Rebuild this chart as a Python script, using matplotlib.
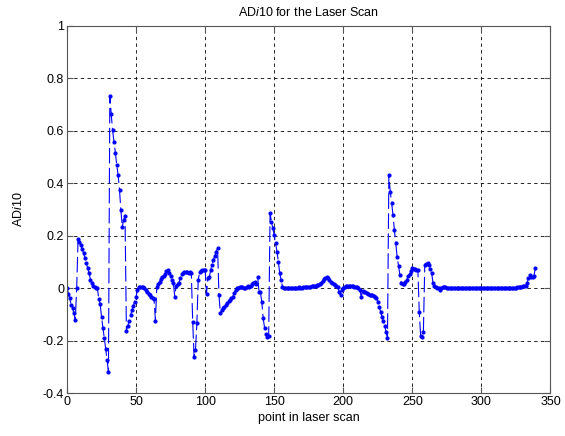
import numpy as np
import matplotlib.pyplot as plt

plt.rcParams["font.family"] = ["Liberation Sans", "DejaVu Sans"]
plt.rcParams["mathtext.fontset"] = "custom"
plt.rcParams["mathtext.it"] = "Liberation Sans:italic"
plt.rcParams["mathtext.rm"] = "Liberation Sans"

# ADi10 values, one per scan point
adi10 = [
    0.0, -0.02, -0.038, -0.064, -0.076, -0.095, -0.12, 0.0, 0.187, 0.178,
    0.165, 0.15, 0.133, 0.114, 0.095, 0.076, 0.057, 0.032, 0.019, 0.009,
    0.004, 0.002, 0.0, -0.04, -0.06, -0.11, -0.15, -0.19, -0.23, -0.275,
    -0.318, 0.734, 0.663, 0.603, 0.558, 0.517, 0.47, 0.432, 0.374, 0.298,
    0.235, 0.26, 0.275, -0.161, -0.143, -0.123, -0.102, -0.083, -0.067, -0.051,
    -0.032, -0.006, 0.006, 0.006, 0.006, 0.004, 0.0, -0.006, -0.013, -0.02,
    -0.025, -0.032, -0.038, -0.04, -0.123, 0.005, 0.016, 0.025, 0.035, 0.042,
    0.047, 0.054, 0.065, 0.07, 0.059, 0.047, 0.032, 0.019, -0.032, 0.01,
    0.016, 0.02, 0.04, 0.055, 0.06, 0.062, 0.062, 0.062, 0.06, 0.062,
    0.058, -0.13, -0.26, -0.235, -0.133, 0.032, 0.062, 0.065, 0.068, 0.068,
    0.07, -0.02, 0.04, 0.042, 0.07, 0.089, 0.108, 0.123, 0.14, 0.152,
    -0.026, -0.093, -0.083, -0.075, -0.07, -0.062, -0.057, -0.05, -0.045, -0.038,
    -0.032, -0.019, -0.006, 0.0, 0.003, 0.006, 0.006, 0.004, 0.0, 0.003,
    0.006, 0.008, 0.006, 0.01, 0.016, 0.02, 0.025, 0.015, 0.044, -0.013,
    -0.015, -0.051, -0.114, -0.15, -0.175, -0.187, -0.18, 0.286, 0.254, 0.229,
    0.203, 0.171, 0.14, 0.101, 0.057, 0.032, 0.006, 0.003, 0.002, 0.002,
    0.002, 0.003, 0.002, 0.002, 0.003, 0.002, 0.002, 0.003, 0.004, 0.003,
    0.003, 0.004, 0.005, 0.004, 0.005, 0.006, 0.006, 0.007, 0.008, 0.009,
    0.01, 0.012, 0.014, 0.018, 0.022, 0.027, 0.034, 0.04, 0.042, 0.038,
    0.032, 0.025, 0.021, 0.015, 0.012, 0.009, 0.004, -0.013, -0.025, -0.005,
    0.0, 0.005, 0.008, 0.009, 0.009, 0.009, 0.008, 0.007, 0.006, 0.005,
    0.004, 0.0, -0.005, -0.032, -0.01, -0.013, -0.016, -0.019, -0.022, -0.025,
    -0.025, -0.025, -0.028, -0.032, -0.038, -0.051, -0.07, -0.089, -0.108, -0.125,
    -0.145, -0.165, -0.19, 0.43, 0.368, 0.326, 0.279, 0.222, 0.171, 0.12,
    0.085, 0.051, 0.02, 0.016, 0.018, 0.025, 0.032, 0.045, 0.055, 0.067,
    0.076, 0.074, 0.072, 0.07, 0.07, -0.09, -0.18, -0.184, -0.165, 0.089,
    0.092, 0.095, 0.09, 0.072, 0.057, 0.019, 0.009, 0.006, 0.003, 0.0,
    -0.006, 0.0, 0.004, 0.005, 0.005, 0.003, 0.0, 0.001, 0.002, 0.002,
    0.001, 0.001, 0.002, 0.001, 0.001, 0.001, 0.002, 0.001, 0.001, 0.001,
    0.001, 0.002, 0.001, 0.001, 0.001, 0.001, 0.001, 0.002, 0.001, 0.001,
    0.001, 0.001, 0.001, 0.001, 0.002, 0.001, 0.001, 0.001, 0.001, 0.001,
    0.001, 0.001, 0.002, 0.001, 0.001, 0.001, 0.001, 0.002, 0.002, 0.002,
    0.002, 0.002, 0.003, 0.002, 0.003, 0.003, 0.004, 0.004, 0.005, 0.006,
    0.007, 0.008, 0.009, 0.019, 0.038, 0.051, 0.044, 0.044, 0.045, 0.076,
]
scan_points = np.arange(len(adi10))

xticks = [0, 50, 100, 150, 200, 250, 300, 350]
yticks = [-0.4, -0.2, 0, 0.2, 0.4, 0.6, 0.8, 1]
ytick_labels = ["-0.4", "-0.2", "0", "0.2", "0.4", "0.6", "0.8", "1"]

fig = plt.figure(figsize=(5.65, 4.36), dpi=100)
ax = fig.add_axes([0.1186, 0.098, 0.8557, 0.8427])

ax.plot(scan_points, adi10, color="#0000ff", linestyle=(0, (14, 4)),
        linewidth=0.8, marker=".", markersize=4)

ax.set_xlim(0, 350)
ax.set_ylim(-0.4, 1)
ax.set_xticks(xticks)
ax.set_yticks(yticks)
ax.set_yticklabels(ytick_labels)
ax.grid(True, color="black", linestyle=(0, (4, 4)), linewidth=0.6)
ax.tick_params(direction="in", top=True, right=True, length=4,
               labelsize=9, color="#555555", pad=2)
for spine in ax.spines.values():
    spine.set_color("#555555")
    spine.set_linewidth(0.8)

ax.set_xlabel("point in laser scan", fontsize=9, labelpad=3)
ax.set_ylabel(r"AD$\mathit{i10}$", fontsize=9, labelpad=13)
ax.set_title(r"AD$\mathit{i10}$ for the Laser Scan", fontsize=9, pad=7)

fig.savefig("out.png", dpi=100, facecolor="white")
